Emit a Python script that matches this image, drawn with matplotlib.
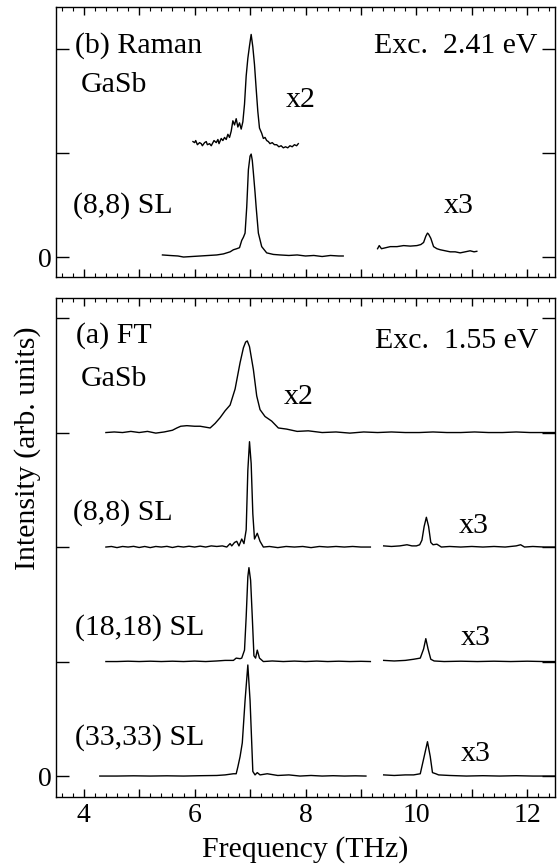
import matplotlib
matplotlib.use("Agg")
import matplotlib.pyplot as plt
from matplotlib.ticker import MultipleLocator, FuncFormatter

plt.rcParams['font.family'] = ['Liberation Serif', 'DejaVu Serif']
plt.rcParams['mathtext.fontset'] = 'stix'

# ---------------- data (frequency in THz, intensity rel. to each trace baseline) ----------------
# (b) Raman, Exc. 2.41 eV
raman_gasb_x = [5.97, 6.00, 6.02, 6.05, 6.09, 6.12, 6.14, 6.18, 6.21, 6.23, 6.27, 6.30, 6.33, 6.35,
                6.39, 6.42, 6.44, 6.48, 6.51, 6.54, 6.57, 6.60, 6.63, 6.66, 6.69, 6.72, 6.75, 6.78,
                6.81, 6.84, 6.87, 6.90, 6.93, 6.96, 6.99, 7.02, 7.05, 7.08, 7.11, 7.14, 7.17, 7.21,
                7.24, 7.27, 7.30, 7.33, 7.36, 7.40, 7.44, 7.48, 7.52, 7.56, 7.60, 7.64, 7.68, 7.72,
                7.76, 7.80, 7.84, 7.87]
raman_gasb_y = [0.11, 0.10, 0.12, 0.08, 0.10, 0.09, 0.07, 0.10, 0.11, 0.08, 0.09, 0.07, 0.10, 0.12,
                0.10, 0.13, 0.09, 0.14, 0.12, 0.15, 0.13, 0.18, 0.15, 0.21, 0.31, 0.27, 0.33, 0.25,
                0.29, 0.23, 0.30, 0.47, 0.74, 0.91, 1.03, 1.14, 1.02, 0.85, 0.62, 0.40, 0.24, 0.19,
                0.14, 0.15, 0.12, 0.11, 0.09, 0.10, 0.08, 0.08, 0.06, 0.07, 0.05, 0.06, 0.05, 0.07,
                0.06, 0.08, 0.07, 0.09]

raman_sl8_x = [5.42, 5.55, 5.70, 5.80, 5.95, 6.10, 6.25, 6.40, 6.52, 6.64, 6.70, 6.76, 6.81, 6.85,
               6.88, 6.91, 6.94, 6.97, 7.00, 7.02, 7.04, 7.06, 7.09, 7.11, 7.15, 7.21, 7.30, 7.42,
               7.54, 7.70, 7.85, 8.00, 8.15, 8.30, 8.45, 8.60, 8.68]
raman_sl8_y = [0.02, 0.015, 0.01, 0.00, 0.005, 0.01, 0.015, 0.02, 0.03, 0.05, 0.07, 0.08, 0.09, 0.16,
               0.19, 0.23, 0.48, 0.84, 0.97, 0.99, 0.93, 0.81, 0.62, 0.48, 0.23, 0.10, 0.04, 0.025,
               0.02, 0.015, 0.02, 0.01, 0.015, 0.005, 0.015, 0.01, 0.01]

raman_sl8_x3_x = [9.30, 9.33, 9.37, 9.45, 9.53, 9.65, 9.77, 9.89, 10.01, 10.08, 10.13, 10.17, 10.20,
                  10.22, 10.26, 10.31, 10.37, 10.43, 10.52, 10.61, 10.70, 10.79, 10.88, 10.97, 11.04,
                  11.09]
raman_sl8_x3_y = [0.08, 0.11, 0.08, 0.09, 0.10, 0.10, 0.11, 0.105, 0.11, 0.12, 0.14, 0.20, 0.23,
                  0.22, 0.18, 0.10, 0.08, 0.07, 0.06, 0.05, 0.05, 0.04, 0.05, 0.06, 0.05, 0.055]

# (a) FT, Exc. 1.55 eV
ft_gasb_x = [4.40, 4.55, 4.70, 4.85, 5.00, 5.15, 5.30, 5.45, 5.60, 5.68, 5.75, 5.86, 6.00, 6.10,
             6.22, 6.28, 6.37, 6.46, 6.55, 6.64, 6.73, 6.82, 6.88, 6.92, 6.95, 6.99, 7.06, 7.12,
             7.18, 7.27, 7.39, 7.51, 7.66, 7.85, 8.05, 8.30, 8.55, 8.80, 9.05, 9.30, 9.55, 9.80,
             10.05, 10.30, 10.55, 10.80, 11.05, 11.30, 11.55, 11.80, 12.05, 12.30, 12.50]
ft_gasb_y = [0.00, 0.005, 0.00, 0.01, 0.00, 0.01, -0.005, 0.005, 0.02, 0.04, 0.055, 0.06, 0.055,
             0.055, 0.045, 0.04, 0.08, 0.13, 0.19, 0.24, 0.38, 0.61, 0.74, 0.79, 0.80, 0.75, 0.55,
             0.32, 0.20, 0.14, 0.10, 0.04, 0.03, 0.01, 0.015, 0.00, 0.005, -0.005, 0.005, 0.00,
             0.005, 0.00, 0.00, 0.005, 0.00, 0.00, 0.005, 0.00, 0.00, 0.005, 0.00, 0.00, 0.00]

ft_sl8_x = [4.40, 4.50, 4.60, 4.70, 4.80, 4.90, 5.00, 5.10, 5.20, 5.30, 5.40, 5.50, 5.60, 5.70,
            5.80, 5.90, 6.00, 6.10, 6.20, 6.30, 6.40, 6.50, 6.58, 6.64, 6.67, 6.72, 6.76, 6.80,
            6.85, 6.89, 6.93, 6.96, 6.99, 7.02, 7.05, 7.08, 7.13, 7.18, 7.24, 7.35, 7.50, 7.65,
            7.80, 7.95, 8.10, 8.25, 8.40, 8.55, 8.70, 8.85, 9.00, 9.17]
ft_sl8_y = [0.00, 0.005, -0.005, 0.005, 0.00, 0.006, -0.004, 0.005, -0.005, 0.005, 0.00, 0.006,
            -0.004, 0.006, 0.00, 0.007, 0.00, 0.008, 0.00, 0.01, 0.005, 0.01, 0.00, 0.03, 0.01,
            0.04, 0.05, 0.01, 0.07, 0.03, 0.15, 0.67, 0.92, 0.73, 0.29, 0.07, 0.12, 0.05, 0.00,
            0.005, -0.005, 0.005, 0.00, 0.005, -0.005, 0.005, 0.00, 0.005, 0.00, 0.005, 0.00, 0.00]
ft_sl8_x3_x = [9.41, 9.55, 9.70, 9.83, 9.92, 10.00, 10.06, 10.10, 10.14, 10.18, 10.22, 10.26,
               10.30, 10.37, 10.45, 10.60, 10.80, 11.00, 11.20, 11.40, 11.60, 11.80, 11.88, 11.95,
               12.10, 12.30, 12.50]
ft_sl8_x3_y = [0.01, 0.005, 0.01, 0.02, 0.01, 0.01, 0.02, 0.06, 0.18, 0.26, 0.18, 0.04, 0.02,
               0.025, 0.00, 0.005, 0.00, 0.005, 0.00, 0.005, 0.00, 0.01, 0.02, 0.00, 0.005, 0.00,
               0.00]

ft_sl18_x = [4.40, 4.60, 4.80, 5.00, 5.20, 5.40, 5.60, 5.80, 6.00, 6.20, 6.40, 6.55, 6.70, 6.75,
             6.82, 6.85, 6.90, 6.93, 6.96, 6.98, 7.01, 7.04, 7.07, 7.10, 7.13, 7.17, 7.24, 7.40,
             7.60, 7.80, 8.00, 8.20, 8.40, 8.60, 8.80, 9.00, 9.17]
ft_sl18_y = [0.00, 0.00, 0.003, 0.00, 0.003, 0.00, 0.003, 0.00, 0.004, 0.00, 0.005, 0.01, 0.01,
             0.03, 0.025, 0.03, 0.10, 0.39, 0.74, 0.82, 0.71, 0.39, 0.05, 0.03, 0.10, 0.03, 0.00,
             0.005, 0.00, 0.004, 0.00, 0.004, 0.00, 0.003, 0.00, 0.002, 0.00]
ft_sl18_x3_x = [9.41, 9.60, 9.80, 9.95, 10.07, 10.13, 10.17, 10.21, 10.26, 10.32, 10.50, 10.80,
                11.10, 11.40, 11.70, 12.00, 12.30, 12.50]
ft_sl18_x3_y = [0.01, 0.005, 0.01, 0.02, 0.03, 0.11, 0.20, 0.11, 0.02, 0.005, 0.00, 0.003, 0.00,
                0.003, 0.00, 0.003, 0.00, 0.00]

ft_sl33_x = [4.29, 4.60, 4.90, 5.20, 5.50, 5.80, 6.10, 6.40, 6.55, 6.70, 6.75, 6.78, 6.82, 6.86,
             6.91, 6.96, 7.00, 7.03, 7.05, 7.09, 7.13, 7.18, 7.31, 7.50, 7.70, 7.90, 8.10, 8.30,
             8.50, 8.70, 8.90, 9.09]
ft_sl33_y = [0.00, 0.00, 0.002, 0.00, 0.002, 0.00, 0.003, 0.005, 0.01, 0.02, 0.02, 0.08, 0.17,
             0.29, 0.66, 0.97, 0.66, 0.29, 0.04, 0.01, 0.03, 0.01, 0.02, 0.005, 0.01, 0.00, 0.005,
             0.00, 0.003, 0.00, 0.002, 0.00]
ft_sl33_x3_x = [9.41, 9.60, 9.80, 9.95, 10.07, 10.14, 10.20, 10.25, 10.29, 10.35, 10.40, 10.60,
                10.90, 11.20, 11.50, 11.80, 12.10, 12.50]
ft_sl33_x3_y = [0.01, 0.005, 0.01, 0.01, 0.02, 0.17, 0.30, 0.17, 0.03, 0.02, 0.01, 0.005, 0.00,
                0.003, 0.00, 0.003, 0.00, 0.00]

raman_offsets = {"gasb": 1.0, "sl8": 0.0}
ft_offsets = {"gasb": 3.0, "sl8": 2.0, "sl18": 1.0, "sl33": 0.0}

# ---------------- figure ----------------
W, H = 557, 864
fig = plt.figure(figsize=(W / 100, H / 100), dpi=100)

def px_axes(left, top, right, bottom):
    return fig.add_axes([left / W, 1 - bottom / H, (right - left) / W, (bottom - top) / H])

axb = px_axes(56, 7, 555, 277)
axa = px_axes(56, 298, 555, 797)

lw = 1.0
kw = dict(color='black', lw=lw)

axb.plot(raman_gasb_x, [v + raman_offsets["gasb"] for v in raman_gasb_y], **kw)
axb.plot(raman_sl8_x, [v + raman_offsets["sl8"] for v in raman_sl8_y], **kw)
axb.plot(raman_sl8_x3_x, [v + raman_offsets["sl8"] for v in raman_sl8_x3_y], **kw)

axa.plot(ft_gasb_x, [v + ft_offsets["gasb"] for v in ft_gasb_y], **kw)
axa.plot(ft_sl8_x, [v + ft_offsets["sl8"] for v in ft_sl8_y], **kw)
axa.plot(ft_sl8_x3_x, [v + ft_offsets["sl8"] for v in ft_sl8_x3_y], **kw)
axa.plot(ft_sl18_x, [v + ft_offsets["sl18"] for v in ft_sl18_y], **kw)
axa.plot(ft_sl18_x3_x, [v + ft_offsets["sl18"] for v in ft_sl18_x3_y], **kw)
axa.plot(ft_sl33_x, [v + ft_offsets["sl33"] for v in ft_sl33_y], **kw)
axa.plot(ft_sl33_x3_x, [v + ft_offsets["sl33"] for v in ft_sl33_x3_y], **kw)

axb.set_ylim(-0.192, 2.404)
axa.set_ylim(-0.183, 4.175)

for ax in (axa, axb):
    ax.set_xlim(3.5, 12.5)
    ax.xaxis.set_major_locator(MultipleLocator(1))
    ax.xaxis.set_minor_locator(MultipleLocator(0.2))
    ax.yaxis.set_major_locator(MultipleLocator(1))
    ax.tick_params(axis='x', which='major', direction='in', length=6, width=1.0,
                   top=True, bottom=True, labelsize=20, pad=4)
    ax.tick_params(axis='x', which='minor', direction='in', length=3, width=0.8,
                   top=True, bottom=True)
    ax.tick_params(axis='y', which='major', direction='in', length=9.5, width=1.0,
                   left=True, right=True, labelsize=20, pad=3)
    ax.yaxis.set_major_formatter(FuncFormatter(lambda v, p: "0" if abs(v) < 1e-9 else ""))
    for s in ax.spines.values():
        s.set_linewidth(1.0)

axb.tick_params(axis='x', labelbottom=False)
axa.xaxis.set_major_formatter(FuncFormatter(
    lambda v, p: f"{int(round(v))}" if abs(v - round(v)) < 1e-9 and int(round(v)) % 2 == 0 else ""))

fs = 21.5

def ftext(x, y, s, **k):
    fig.text(x / W, 1 - y / H, s, fontsize=fs, va='baseline', **k)

# top panel texts
ftext(75, 53, "(b) Raman")
ftext(81, 92, "GaSb")
ftext(73, 213, "(8,8) SL")
ftext(286, 107, "x2")
ftext(444, 213, "x3")
ftext(538, 53, "Exc.  2.41 eV", ha='right')

# bottom panel texts
ftext(76, 343, "(a) FT")
ftext(81, 386, "GaSb")
ftext(284, 404, "x2")
ftext(538, 348, "Exc.  1.55 eV", ha='right')
ftext(73, 520, "(8,8) SL")
ftext(459, 533, "x3")
ftext(75, 635, "(18,18) SL")
ftext(461, 645, "x3")
ftext(75, 745, "(33,33) SL")
ftext(461, 761, "x3")

ftext(305, 857, "Frequency (THz)", ha='center')
fig.text(28 / W, 1 - 448 / H, "Intensity (arb. units)", fontsize=fs, rotation=90,
         ha='center', va='center')

fig.savefig("out.png", dpi=100)
